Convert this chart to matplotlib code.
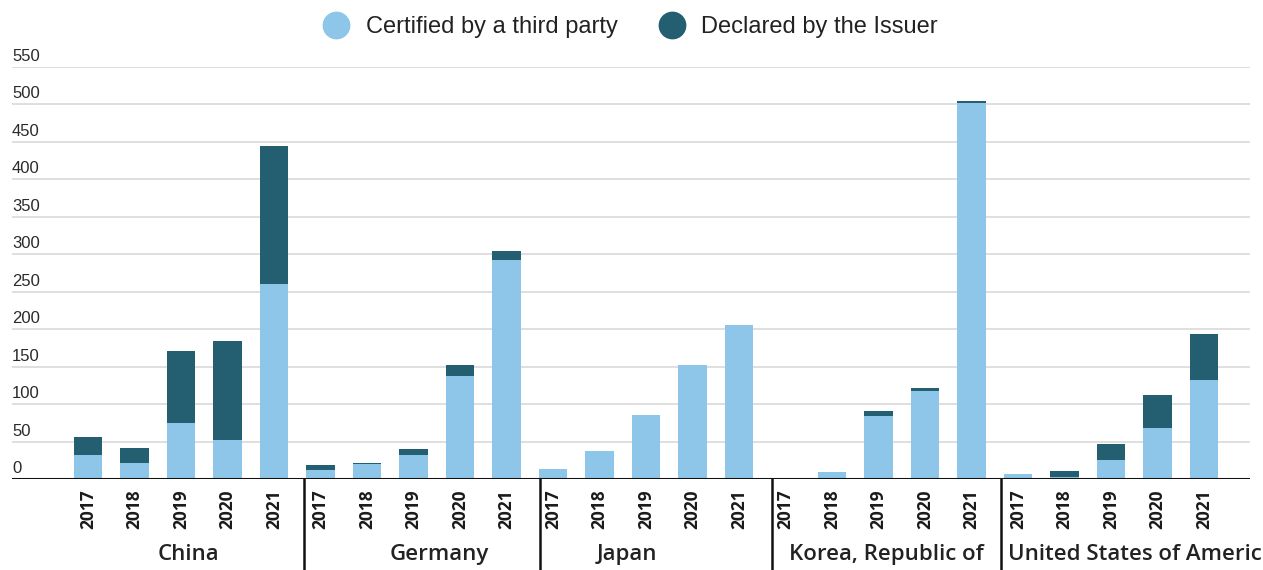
import numpy as np
import matplotlib
matplotlib.use("Agg")
import matplotlib.pyplot as plt
from matplotlib.lines import Line2D
import matplotlib.transforms as mtransforms

# data
countries = ["China", "Germany", "Japan", "Korea, Republic of", "United States of Americ"]
years = ["2017", "2018", "2019", "2020", "2021"]
certified = [
    [33, 21.6, 75, 52, 261],      # China
    [12.6, 20, 33, 138, 292],     # Germany
    [14, 38, 86, 152, 206],       # Japan
    [1, 9.6, 84, 118, 501.5],     # Korea
    [7.3, 3.7, 26, 68, 132],      # USA
]
declared = [
    [23, 20.5, 96.5, 133, 183],
    [6.5, 1.5, 7, 14.5, 13],
    [0, 0, 0, 1.2, 0],
    [0, 0, 7, 4.5, 3.5],
    [0, 8, 21, 45, 62],
]
yticks = [0, 50, 100, 150, 200, 250, 300, 350, 400, 450, 500, 550]

light = "#8EC6E9"
dark = "#235E71"

cert = np.array(certified).ravel()
decl = np.array(declared).ravel()
n = len(cert)
x = np.arange(n)
xlabels = years * len(countries)

fig = plt.figure(figsize=(12.63, 5.70), dpi=100)
ax = fig.add_axes([0.0095, 0.1588, 0.9802, 0.7237])

ax.bar(x, cert, width=0.62, color=light, zorder=3)
ax.bar(x, decl, bottom=cert, width=0.62, color=dark, zorder=3)

ax.set_xlim(-1.634, 24.99)
ax.set_ylim(0, 550)

# grid lines with labels sitting on top of them
for v in yticks[1:]:
    ax.axhline(v, color="#dcdcdc", lw=1.3, zorder=1)
ax.axhline(0, color="#111111", lw=2.2, zorder=4)
ax.set_yticks([])
trans_y = mtransforms.blended_transform_factory(ax.transAxes, ax.transData)
for v in yticks:
    ax.text(0.0, v + 4.5, str(v), transform=trans_y, ha="left", va="bottom",
            fontsize=12, color="#2a2a2a", family="Liberation Sans")

for s in ax.spines.values():
    s.set_visible(False)

ax.set_xticks(x)
ax.set_xticklabels(xlabels, rotation=90, fontsize=12.5, fontweight="bold",
                   family="Open Sans", color="#1a1a1a")
ax.tick_params(axis="x", length=0, pad=7)

# group dividers and country labels
trans_x = mtransforms.blended_transform_factory(ax.transData, ax.transAxes)
div_pos = [4.65, 9.72, 14.7, 19.64]
for d in div_pos:
    ax.plot([d, d], [0, -0.3], color="#111111", lw=1.8, transform=trans_x, clip_on=False)

label_pos = [2.15, 7.55, 11.58, 17.18, 19.78]
label_ha = ["center", "center", "center", "center", "left"]
for name, p, ha in zip(countries, label_pos, label_ha):
    ax.text(p, -0.182, name, transform=trans_x, ha=ha, va="center", fontsize=16,
            fontweight="semibold", family="Open Sans", color="#222222")

handles = [
    Line2D([], [], marker="o", ls="", markersize=19, markerfacecolor=light, markeredgecolor=light),
    Line2D([], [], marker="o", ls="", markersize=19, markerfacecolor=dark, markeredgecolor=dark),
]
fig.legend(handles, ["Certified by a third party", "Declared by the Issuer"], loc="center",
           bbox_to_anchor=(0.495, 0.952), ncol=2, frameon=False, handletextpad=0.25,
           columnspacing=1.3, prop={"family": "Liberation Sans", "size": 17},
           labelcolor="#222222")

fig.savefig("out.png", dpi=100)
